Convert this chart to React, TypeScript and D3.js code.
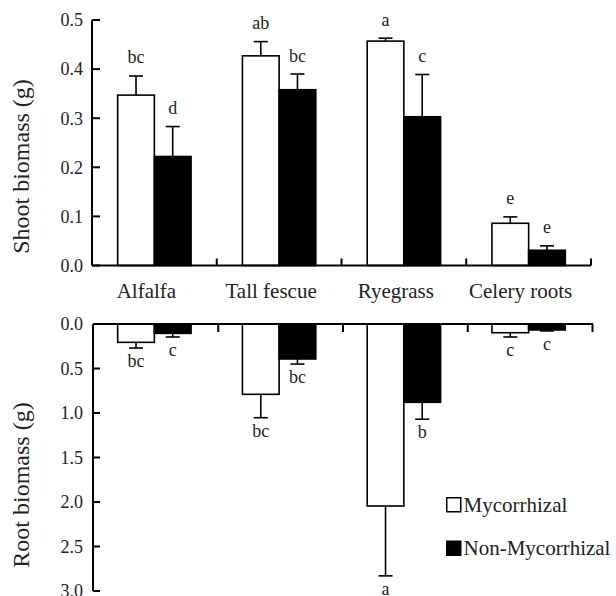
import React from 'react';
import * as d3 from 'd3';

// plant species on the x axis
const categories = ['Alfalfa', 'Tall fescue', 'Ryegrass', 'Celery roots'];
const series = ['Mycorrhizal', 'Non-Mycorrhizal'];

// shoot biomass (g): means, mean + error, significance letters
const shootMyco = [0.347, 0.427, 0.457, 0.086];
const shootMycoErr = [0.386, 0.456, 0.463, 0.099];
const shootNon = [0.222, 0.358, 0.303, 0.031];
const shootNonErr = [0.283, 0.39, 0.389, 0.04];
const shootMycoLetters = ['bc', 'ab', 'a', 'e'];
const shootNonLetters = ['d', 'bc', 'c', 'e'];

// root biomass (g), drawn downwards
const rootMyco = [0.206, 0.79, 2.045, 0.098];
const rootMycoErr = [0.27, 1.053, 2.83, 0.146];
const rootNon = [0.105, 0.393, 0.88, 0.067];
const rootNonErr = [0.146, 0.45, 1.07, 0.078];
const rootMycoLetters = ['bc', 'bc', 'a', 'c'];
const rootNonLetters = ['c', 'bc', 'b', 'c'];

const shootTicks = [0, 0.1, 0.2, 0.3, 0.4, 0.5];
const rootTicks = [0, 0.5, 1.0, 1.5, 2.0, 2.5, 3.0];

const W = 616;
const H = 596;
const FONT = "'Liberation Serif', 'DejaVu Serif', 'Times New Roman', Times, serif";

export default function App() {
  const x0 = d3.scaleBand<string>().domain(categories).range([92, 591]);
  const x1 = d3.scaleBand<string>().domain(series).range([0, x0.bandwidth()]).paddingOuter(0.7);
  const yTop = d3.scaleLinear().domain([0, 0.5]).range([265.5, 20]);
  const yBot = d3.scaleLinear().domain([0, 3]).range([324, 591]);
  const fmt = d3.format('.1f');

  const shootSeries = [
    { key: series[0], vals: shootMyco, errs: shootMycoErr, letters: shootMycoLetters, fill: '#fff' },
    { key: series[1], vals: shootNon, errs: shootNonErr, letters: shootNonLetters, fill: '#000' },
  ];
  const rootSeries = [
    { key: series[0], vals: rootMyco, errs: rootMycoErr, letters: rootMycoLetters, fill: '#fff' },
    { key: series[1], vals: rootNon, errs: rootNonErr, letters: rootNonLetters, fill: '#000' },
  ];
  const cap = 7;
  const [xL, xR] = x0.range();

  return (
    <svg width={W} height={H} style={{ position: 'absolute', left: 0, top: 0, background: '#fff', fontFamily: FONT }}
      fill="#222">
      {/* ---------- top panel: shoot biomass ---------- */}
      {shootSeries.map(s => (
        <g key={'s' + s.key}>
          {categories.map((c, i) => {
            const bx = x0(c)! + x1(s.key)!;
            const cx = bx + x1.bandwidth() / 2;
            return (
              <g key={c}>
                <line x1={cx} x2={cx} y1={yTop(s.vals[i])} y2={yTop(s.errs[i])} stroke="#000" strokeWidth={1.6} />
                <line x1={cx - cap} x2={cx + cap} y1={yTop(s.errs[i])} y2={yTop(s.errs[i])} stroke="#000" strokeWidth={1.6} />
                <rect x={bx} y={yTop(s.vals[i])} width={x1.bandwidth()} height={yTop(0) - yTop(s.vals[i])}
                  fill={s.fill} stroke="#000" strokeWidth={1.6} />
                <text x={cx} y={yTop(s.errs[i]) - 12.5} textAnchor="middle" fontSize={18}>{s.letters[i]}</text>
              </g>
            );
          })}
        </g>
      ))}
      <line x1={xL} x2={xL} y1={yTop(0.5)} y2={yTop(0)} stroke="#000" strokeWidth={2} />
      <line x1={xL} x2={xR} y1={yTop(0)} y2={yTop(0)} stroke="#000" strokeWidth={2} />
      {shootTicks.map(t => (
        <g key={'st' + t}>
          <line x1={xL} x2={xL + 8} y1={yTop(t)} y2={yTop(t)} stroke="#000" strokeWidth={2} />
          <text x={83} y={yTop(t)} dy="0.35em" textAnchor="end" fontSize={18}>{fmt(t)}</text>
        </g>
      ))}
      {categories.map(c => (
        <line key={'sx' + c} x1={x0(c)! + x0.bandwidth()} x2={x0(c)! + x0.bandwidth()}
          y1={yTop(0)} y2={yTop(0) - 7} stroke="#000" strokeWidth={2} />
      ))}
      {categories.map(c => (
        <text key={'cl' + c} x={x0(c)! + x0.bandwidth() / 2 - 8} y={298} textAnchor="middle" fontSize={21}>{c}</text>
      ))}
      <text transform={`translate(28.5,166.5) rotate(-90)`} textAnchor="middle" fontSize={24}>
        Shoot biomass (g)
      </text>

      {/* ---------- bottom panel: root biomass ---------- */}
      {rootSeries.map(s => (
        <g key={'r' + s.key}>
          {categories.map((c, i) => {
            const bx = x0(c)! + x1(s.key)!;
            const cx = bx + x1.bandwidth() / 2;
            return (
              <g key={c}>
                <line x1={cx} x2={cx} y1={yBot(s.vals[i])} y2={yBot(s.errs[i])} stroke="#000" strokeWidth={1.6} />
                <line x1={cx - cap} x2={cx + cap} y1={yBot(s.errs[i])} y2={yBot(s.errs[i])} stroke="#000" strokeWidth={1.6} />
                <rect x={bx} y={yBot(0)} width={x1.bandwidth()} height={yBot(s.vals[i]) - yBot(0)}
                  fill={s.fill} stroke="#000" strokeWidth={1.6} />
                <text x={cx} y={yBot(s.errs[i]) + 19} textAnchor="middle" fontSize={18}>{s.letters[i]}</text>
              </g>
            );
          })}
        </g>
      ))}
      <line x1={xL + 1} x2={xL + 1} y1={yBot(0)} y2={yBot(3)} stroke="#000" strokeWidth={2} />
      <line x1={xL + 1} x2={xR + 2} y1={yBot(0)} y2={yBot(0)} stroke="#000" strokeWidth={2} />
      {rootTicks.map(t => (
        <g key={'rt' + t}>
          <line x1={xL + 1} x2={xL + 8} y1={yBot(t)} y2={yBot(t)} stroke="#000" strokeWidth={2} />
          <text x={83} y={yBot(t)} dy="0.35em" textAnchor="end" fontSize={18}>{fmt(t)}</text>
        </g>
      ))}
      {categories.map(c => (
        <line key={'rx' + c} x1={x0(c)! + x0.bandwidth() + 1.5} x2={x0(c)! + x0.bandwidth() + 1.5}
          y1={yBot(0)} y2={yBot(0) + 8} stroke="#000" strokeWidth={2} />
      ))}
      <text transform={`translate(28.5,485) rotate(-90)`} textAnchor="middle" fontSize={24}>
        Root biomass (g)
      </text>

      {/* legend */}
      {series.map((s, i) => (
        <g key={'lg' + s} transform={`translate(446,${497 + i * 43.5})`}>
          <rect x={0.75} y={0.75} width={14} height={14} fill={i === 0 ? '#fff' : '#000'} stroke="#000" strokeWidth={1.5} />
          <text x={17.5} y={14.5} fontSize={21}>{s}</text>
        </g>
      ))}
    </svg>
  );
}
